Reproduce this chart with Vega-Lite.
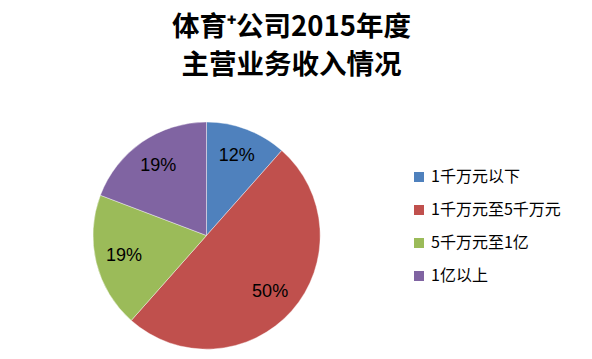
{
  "$schema": "https://vega.github.io/schema/vega-lite/v6.json",
  "autosize": {"type": "none"},
  "padding": {"left": 93, "top": 122, "right": 272, "bottom": 10},
  "width": 227,
  "height": 227,
  "background": "white",
  "title": {
    "text": ["体育⁺公司2015年度", "主营业务收入情况"],
    "font": "Noto Sans CJK SC",
    "fontSize": 27.5,
    "fontWeight": "bold",
    "lineHeight": 38,
    "color": "#000000",
    "anchor": "middle",
    "dx": 85,
    "offset": 42
  },
  "data": {
    "values": [
      {"category": "1千万元以下", "count": 3, "idx": 1, "label": "12%"},
      {"category": "1千万元至5千万元", "count": 13, "idx": 2, "label": "50%"},
      {"category": "5千万元至1亿", "count": 5, "idx": 3, "label": "19%"},
      {"category": "1亿以上", "count": 5, "idx": 4, "label": "19%"}
    ]
  },
  "encoding": {
    "theta": {"field": "count", "type": "quantitative", "stack": true},
    "order": {"field": "idx", "type": "quantitative"},
    "color": {
      "field": "category",
      "type": "nominal",
      "scale": {
        "domain": ["1千万元以下", "1千万元至5千万元", "5千万元至1亿", "1亿以上"],
        "range": ["#4F81BD", "#C0504D", "#9BBB59", "#8064A2"]
      },
      "legend": {
        "title": null,
        "orient": "none",
        "legendX": 318,
        "legendY": 47,
        "symbolType": "square",
        "symbolSize": 100,
        "symbolStrokeWidth": 0,
        "labelFont": "Noto Sans CJK SC",
        "labelFontSize": 16,
        "labelColor": "#000000",
        "labelOffset": 4,
        "rowPadding": 17
      }
    }
  },
  "layer": [
    {"mark": {"type": "arc", "outerRadius": 113.5, "stroke": "white", "strokeWidth": 0.4}},
    {
      "mark": {"type": "text", "radius": 85, "font": "Liberation Sans", "fontSize": 18, "fill": "#000000"},
      "encoding": {"text": {"field": "label"}, "color": {"value": "#000000"}}
    }
  ],
  "config": {"view": {"stroke": null}}
}
